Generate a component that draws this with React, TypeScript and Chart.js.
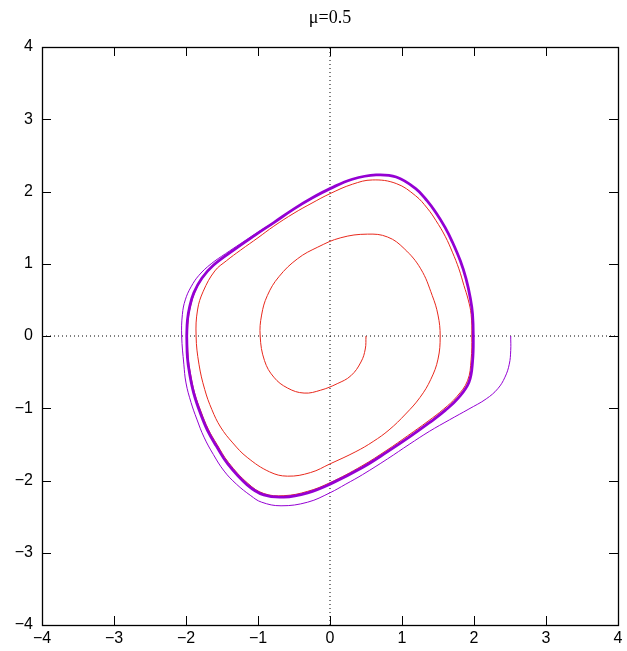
import React, { useEffect, useRef } from 'react';
import { Chart, registerables } from 'chart.js';

Chart.register(...registerables);

const TITLE = 'μ=0.5';
const AXIS_MIN = -4;
const AXIS_MAX = 4;
const TICK_VALUES = [-4, -3, -2, -1, 0, 1, 2, 3, 4];

// Red trajectory: starts at (0.5, 0) and spirals outward to the limit cycle
const redSpiral: [number, number][] = [
  [0.5, 0], [0.49, -0.18], [0.43, -0.36], [0.29, -0.55], [0.1, -0.66], [-0.13, -0.75], [-0.36, -0.79],
  [-0.59, -0.72], [-0.78, -0.57], [-0.91, -0.34], [-0.97, 0], [-0.95, 0.29], [-0.87, 0.56], [-0.71, 0.82],
  [-0.45, 1.07], [-0.17, 1.23], [0.15, 1.36], [0.52, 1.41], [0.8, 1.37], [1.03, 1.21], [1.26, 0.93],
  [1.42, 0.56], [1.5, 0.29], [1.53, 0], [1.5, -0.32], [1.4, -0.6], [1.25, -0.85], [1.05, -1.08],
  [0.82, -1.3], [0.6, -1.46], [0.36, -1.6], [0, -1.77], [-0.27, -1.89], [-0.59, -1.94], [-0.84, -1.88],
  [-1.15, -1.68], [-1.35, -1.48], [-1.52, -1.26], [-1.64, -1.02], [-1.74, -0.74], [-1.82, -0.39], [-1.86, 0],
  [-1.84, 0.36], [-1.76, 0.62], [-1.6, 0.9], [-1.44, 1.04], [-1.24, 1.19], [-1.0, 1.36], [-0.78, 1.52],
  [-0.5, 1.7], [-0.25, 1.84], [0, 1.97], [0.31, 2.1], [0.59, 2.16], [0.92, 2.11], [1.19, 1.94],
  [1.35, 1.77], [1.47, 1.6], [1.6, 1.38], [1.7, 1.16], [1.79, 0.93], [1.86, 0.7], [1.92, 0.5], [1.96, 0.3],
  [1.97, 0], [1.96, -0.33], [1.91, -0.62], [1.76, -0.84], [1.58, -1.01], [1.36, -1.18], [1.08, -1.38],
  [0.79, -1.58], [0.44, -1.8], [0, -2.03], [-0.31, -2.15], [-0.64, -2.21], [-0.92, -2.18], [-1.14, -2.04],
  [-1.41, -1.75], [-1.57, -1.5], [-1.69, -1.29], [-1.79, -1.05], [-1.88, -0.79], [-1.94, -0.51], [-1.97, -0.3],
  [-1.98, 0], [-1.97, 0.22], [-1.94, 0.4], [-1.88, 0.6], [-1.77, 0.8], [-1.61, 0.98], [-1.3, 1.21],
  [-1.04, 1.39], [-0.77, 1.57],
];

// Purple trajectory: starts at (2.5, 0) and spirals inward to the limit cycle
const purpleTransient: [number, number][] = [
  [2.51, 0], [2.51, -0.2], [2.49, -0.39], [2.43, -0.57], [2.33, -0.73], [2.17, -0.87], [1.93, -1.01],
  [1.66, -1.16], [1.38, -1.32], [1.1, -1.5], [0.8, -1.7], [0.45, -1.92], [0.22, -2.05], [0, -2.17],
  [-0.31, -2.3], [-0.68, -2.35], [-0.95, -2.3], [-1.1, -2.21], [-1.3, -2.05], [-1.47, -1.87], [-1.62, -1.64],
  [-1.75, -1.4], [-1.85, -1.15], [-1.93, -0.92], [-2.0, -0.65], [-2.03, -0.39], [-2.06, 0], [-2.05, 0.3],
  [-2.01, 0.5], [-1.93, 0.68], [-1.82, 0.84], [-1.65, 1.0], [-1.45, 1.14], [-1.24, 1.28], [-0.95, 1.47],
  [-0.78, 1.57],
];

// Limit cycle traced repeatedly by the purple trajectory
const limitCycle: [number, number][] = [
  [-1.99, 0], [-1.98, 0.22], [-1.95, 0.4], [-1.89, 0.6], [-1.78, 0.8], [-1.62, 0.98], [-1.31, 1.21],
  [-1.05, 1.39], [-0.78, 1.57], [-0.5, 1.76], [-0.25, 1.91], [0, 2.04], [0.31, 2.17], [0.64, 2.23],
  [0.92, 2.2], [1.19, 2.04], [1.35, 1.87], [1.47, 1.71], [1.6, 1.5], [1.7, 1.3], [1.81, 1.04], [1.89, 0.79],
  [1.95, 0.52], [1.98, 0.3], [1.99, 0], [1.98, -0.35], [1.93, -0.64], [1.78, -0.86], [1.6, -1.03],
  [1.38, -1.2], [1.1, -1.4], [0.8, -1.6], [0.45, -1.82], [0, -2.05], [-0.31, -2.17], [-0.64, -2.23],
  [-0.92, -2.2], [-1.15, -2.06], [-1.42, -1.77], [-1.58, -1.52], [-1.7, -1.31], [-1.8, -1.07],
  [-1.89, -0.8], [-1.95, -0.52], [-1.98, -0.3], [-1.99, 0],
];

const zeroLineV: [number, number][] = [[0, AXIS_MIN], [0, AXIS_MAX]];
const zeroLineH: [number, number][] = [[AXIS_MIN, 0], [AXIS_MAX, 0]];

const toPts = (a: [number, number][]) => a.map(([x, y]) => ({ x, y }));

const fmt = (v: number | string) => {
  const n = Number(v);
  return n < 0 ? '\u2212' + Math.abs(n) : String(n);
};

const framePlugin = {
  id: 'gnuFrame',
  afterDatasetsDraw(chart: any) {
    const { ctx, chartArea } = chart;
    const { left, right, top, bottom } = chartArea;
    const xs = chart.scales.x;
    const ys = chart.scales.y;
    const tl = 9;
    ctx.save();
    ctx.strokeStyle = '#000';
    ctx.lineWidth = 1;
    ctx.beginPath();
    for (const v of TICK_VALUES) {
      const px = Math.round(xs.getPixelForValue(v)) + 0.5;
      ctx.moveTo(px, bottom);
      ctx.lineTo(px, bottom - tl);
      ctx.moveTo(px, top);
      ctx.lineTo(px, top + tl);
      const py = Math.round(ys.getPixelForValue(v)) + 0.5;
      ctx.moveTo(left, py);
      ctx.lineTo(left + tl, py);
      ctx.moveTo(right, py);
      ctx.lineTo(right - tl, py);
    }
    ctx.stroke();
    ctx.lineWidth = 1.3;
    ctx.strokeRect(Math.round(left) + 0.5, Math.round(top) + 0.5, Math.round(right - left), Math.round(bottom - top));
    ctx.fillStyle = '#000';
    ctx.font = '18px "Liberation Serif", "DejaVu Serif", serif';
    ctx.textAlign = 'center';
    ctx.textBaseline = 'middle';
    ctx.fillText(TITLE, (left + right) / 2, 18);
    ctx.restore();
  },
};

export default function App() {
  const ref = useRef<HTMLCanvasElement | null>(null);
  useEffect(() => {
    if (!ref.current) return;
    const tickFont = { family: '"Liberation Sans", Arial, sans-serif', size: 16 };
    const chart = new Chart(ref.current, {
      type: 'scatter',
      data: {
        datasets: [
          {
            data: toPts(limitCycle),
            showLine: true,
            borderColor: '#9400d3',
            borderWidth: 2.8,
            pointRadius: 0,
            tension: 0.4,
          },
          {
            data: toPts(purpleTransient),
            showLine: true,
            borderColor: '#9400d3',
            borderWidth: 1,
            pointRadius: 0,
            tension: 0.4,
          },
          {
            data: toPts(redSpiral),
            showLine: true,
            borderColor: 'rgb(232,40,28)',
            borderWidth: 1,
            pointRadius: 0,
            tension: 0.4,
          },
          {
            data: toPts(zeroLineV),
            showLine: true,
            borderColor: '#000',
            borderWidth: 1,
            borderDash: [1, 3],
            pointRadius: 0,
          },
          {
            data: toPts(zeroLineH),
            showLine: true,
            borderColor: '#000',
            borderWidth: 1,
            borderDash: [1, 3],
            pointRadius: 0,
          },
        ],
      },
      options: {
        responsive: false,
        animation: false,
        layout: { padding: { top: 47, right: 9, left: 0, bottom: 0 } },
        plugins: {
          legend: { display: false },
          tooltip: { enabled: false },
          title: { display: false },
        },
        scales: {
          x: {
            type: 'linear',
            min: AXIS_MIN,
            max: AXIS_MAX,
            grid: { display: false, drawTicks: false },
            border: { display: false },
            ticks: {
              stepSize: 1,
              color: '#000',
              font: tickFont,
              padding: 4,
              maxRotation: 0,
              callback: (v: any) => fmt(v),
            },
            afterFit: (s: any) => {
              s.height = 26;
            },
          },
          y: {
            type: 'linear',
            min: AXIS_MIN,
            max: AXIS_MAX,
            grid: { display: false, drawTicks: false },
            border: { display: false },
            ticks: {
              stepSize: 1,
              color: '#000',
              font: tickFont,
              padding: 9,
              callback: (v: any) => fmt(v),
            },
            afterFit: (s: any) => {
              s.width = 42;
            },
          },
        },
      },
      plugins: [framePlugin],
    });
    return () => chart.destroy();
  }, []);
  return (
    <div style={{ position: 'absolute', left: 0, top: 0, width: 627, height: 651 }}>
      <canvas ref={ref} width={627} height={651} />
    </div>
  );
}
